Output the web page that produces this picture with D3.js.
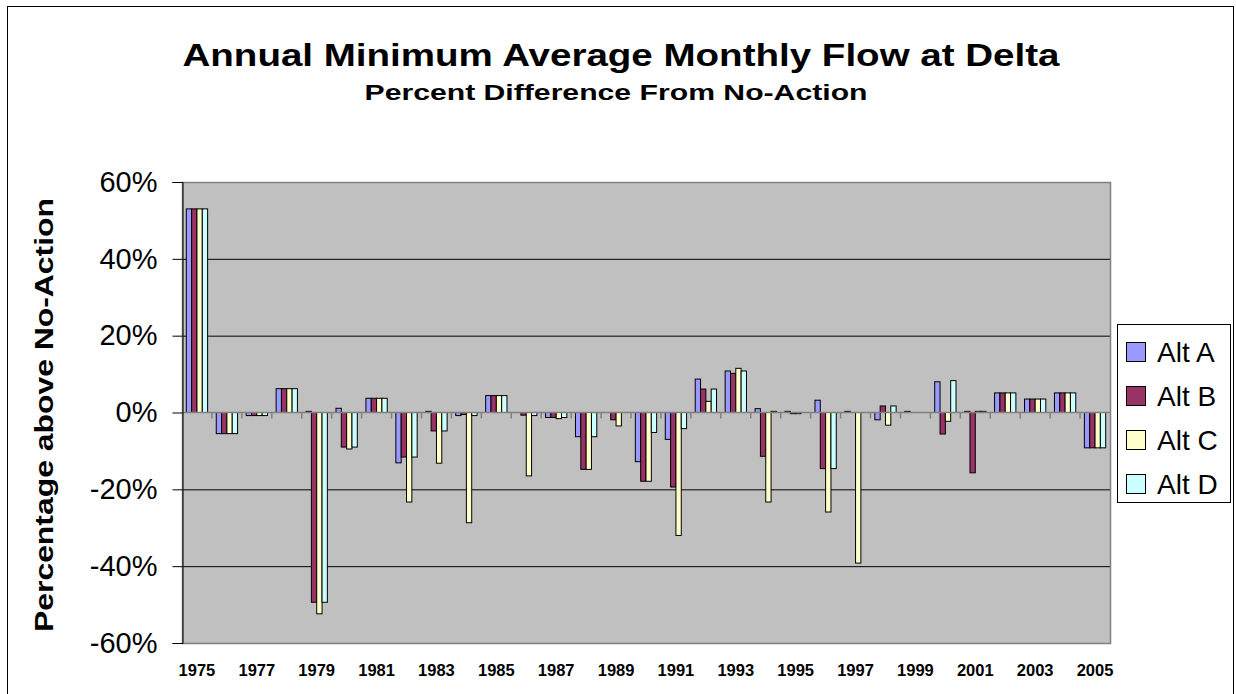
<!DOCTYPE html>
<html>
<head>
<meta charset="utf-8">
<script src="https://cdn.jsdelivr.net/npm/d3@7/dist/d3.min.js"></script>
<style>
  body { margin: 0; background: #fff; }
  text { font-family: Arial, "Liberation Sans", sans-serif; }
</style>
</head>
<body>
<div id="chart"></div>
<script>
var years = d3.range(1975, 2006)
var series = ['Alt A', 'Alt B', 'Alt C', 'Alt D']
var colors = ['#9999ff', '#993366', '#ffffcc', '#ccffff']

var altA = [53, -5.5, -0.8, 6.2, 0.3, 1.1, 3.7, -13.1, 0.3, -0.8, 4.4, 0, -1.3, -6.3, 0, -12.8, -7.0, 8.7, 10.8, 1.0, 0.3, 3.2, 0.3, -1.9, 0.3, 8.0, 0.3, 5.1, 3.5, 5.1, -9.2]
var altB = [53, -5.5, -0.8, 6.2, -49.4, -9.0, 3.7, -11.6, -4.8, -0.5, 4.4, -0.7, -1.3, -14.8, -1.9, -17.9, -19.4, 6.1, 10.2, -11.4, -0.3, -14.6, 0, 1.7, 0, -5.6, -15.7, 5.1, 3.5, 5.1, -9.2]
var altC = [53, -5.5, -0.8, 6.2, -52.4, -9.5, 3.7, -23.3, -13.2, -28.7, 4.4, -16.5, -1.6, -14.8, -3.5, -17.9, -32.0, 2.9, 11.5, -23.3, -0.3, -25.9, -39.2, -3.3, 0, -2.3, 0.3, 5.1, 3.5, 5.1, -9.2]
var altD = [53, -5.5, -0.8, 6.2, -49.4, -9.0, 3.7, -11.6, -4.8, -0.8, 4.4, -0.8, -1.3, -6.3, 0, -5.2, -4.2, 6.1, 10.8, 0.3, 0, -14.6, 0, 1.7, 0, 8.3, 0.3, 5.1, 3.5, 5.1, -9.2]
var yTicks = [-60, -40, -20, 0, 20, 40, 60]
var yearLabels = d3.range(1975, 2006, 2)

var width = 1236, height = 694
var plot = {left: 182, top: 182, right: 1110, bottom: 643}
var allSeries = [altA, altB, altC, altD]

var svg = d3.select('#chart')
    .append('svg')
    .attr('width', width)
    .attr('height', height)

// outer chart frame
svg.append('rect')
    .attr('x', 7.5).attr('y', 6.5)
    .attr('width', 1226).attr('height', 700)
    .attr('fill', '#fff')
    .attr('stroke', '#000')
    .attr('stroke-width', 1)

var x = d3.scaleBand()
    .domain(years)
    .range([plot.left, plot.right])
    .paddingInner(0.4 / 1.4)
    .paddingOuter(0.2)

var xCat = d3.scaleBand()
    .domain(years)
    .range([plot.left, plot.right])

var xSub = d3.scaleBand()
    .domain(series)
    .range([0, x.bandwidth()])

var y = d3.scaleLinear()
    .domain([-60, 60])
    .range([plot.bottom, plot.top])

// plot area
svg.append('rect')
    .attr('x', plot.left).attr('y', plot.top)
    .attr('width', plot.right - plot.left)
    .attr('height', plot.bottom - plot.top)
    .attr('fill', '#c0c0c0')

// gridlines
svg.append('g')
    .selectAll('line')
    .data(yTicks.filter(function(d) { return d != 0 && d != 60 && d != -60 }))
    .enter()
    .append('line')
    .attr('x1', plot.left).attr('x2', plot.right)
    .attr('y1', function(d) { return y(d) + 0.5 })
    .attr('y2', function(d) { return y(d) + 0.5 })
    .attr('stroke', '#000')
    .attr('stroke-width', 1)

// plot border
svg.append('rect')
    .attr('x', plot.left + 0.5).attr('y', plot.top + 0.5)
    .attr('width', plot.right - plot.left)
    .attr('height', plot.bottom - plot.top)
    .attr('fill', 'none')
    .attr('stroke', '#808080')
    .attr('stroke-width', 1.5)

// bars
var rows = years.map(function(yr, i) {
    return {year: yr, values: series.map(function(s, j) { return {key: s, idx: j, value: allSeries[j][i]} })}
})

svg.append('g')
    .selectAll('g')
    .data(rows)
    .enter()
    .append('g')
    .attr('transform', function(d) {
        var x0 = xCat(d.year) + (xCat.bandwidth() - x.bandwidth()) / 2
        return 'translate(' + x0 + ',0)'
    })
    .selectAll('rect')
    .data(function(d) { return d.values })
    .enter()
    .append('rect')
    .attr('x', function(d) { return xSub(d.key) })
    .attr('width', xSub.bandwidth())
    .attr('y', function(d) { return Math.min(y(d.value), y(0)) })
    .attr('height', function(d) { return Math.abs(y(d.value) - y(0)) })
    .attr('fill', function(d) { return colors[d.idx] })
    .attr('stroke', '#000')
    .attr('stroke-width', 1)

// zero axis with category ticks
svg.append('line')
    .attr('x1', plot.left).attr('x2', plot.right)
    .attr('y1', y(0)).attr('y2', y(0))
    .attr('stroke', '#808080')
    .attr('stroke-width', 1.5)

svg.append('g')
    .selectAll('line')
    .data(years.slice(1))
    .enter()
    .append('line')
    .attr('x1', function(d) { return xCat(d) })
    .attr('x2', function(d) { return xCat(d) })
    .attr('y1', y(0)).attr('y2', y(0) + 6)
    .attr('stroke', '#808080')
    .attr('stroke-width', 1.5)

// y axis
var yAxis = d3.axisLeft(y)
    .tickValues(yTicks)
    .tickSize(10)
    .tickPadding(15)
    .tickFormat(function(d) { return d + '%' })

var ya = svg.append('g')
    .attr('transform', 'translate(' + (plot.left + 0.5) + ',0)')
    .call(yAxis)
ya.select('.domain').attr('stroke', '#000').attr('stroke-width', 1)
ya.selectAll('.tick line').attr('stroke', '#000')
ya.selectAll('.tick text')
    .attr('font-size', 29)
    .attr('fill', '#000')
    .style('font-family', 'Arial, "Liberation Sans", sans-serif')

// x labels
svg.append('g')
    .selectAll('text')
    .data(yearLabels)
    .enter()
    .append('text')
    .attr('x', function(d) { return xCat(d) + xCat.bandwidth() / 2 })
    .attr('y', 676)
    .attr('text-anchor', 'middle')
    .attr('font-size', 16.5)
    .attr('font-weight', 'bold')
    .text(function(d) { return d })

// titles
svg.append('text')
    .attr('x', 621).attr('y', 66)
    .attr('text-anchor', 'middle')
    .attr('font-size', 31)
    .attr('font-weight', 'bold')
    .attr('textLength', 877)
    .attr('lengthAdjust', 'spacingAndGlyphs')
    .text('Annual Minimum Average Monthly Flow at Delta')

svg.append('text')
    .attr('x', 616).attr('y', 100)
    .attr('text-anchor', 'middle')
    .attr('font-size', 22)
    .attr('font-weight', 'bold')
    .attr('textLength', 503)
    .attr('lengthAdjust', 'spacingAndGlyphs')
    .text('Percent Difference From No-Action')

svg.append('text')
    .attr('transform', 'translate(53,415) rotate(-90)')
    .attr('text-anchor', 'middle')
    .attr('font-size', 25)
    .attr('font-weight', 'bold')
    .attr('textLength', 434)
    .attr('lengthAdjust', 'spacingAndGlyphs')
    .text('Percentage above No-Action')

// legend
var legend = svg.append('g')
legend.append('rect')
    .attr('x', 1117.5).attr('y', 324.5)
    .attr('width', 113).attr('height', 178)
    .attr('fill', '#fff')
    .attr('stroke', '#000')
    .attr('stroke-width', 1)

var items = legend.selectAll('g.item')
    .data(series)
    .enter()
    .append('g')
    .attr('class', 'item')
    .attr('transform', function(d, i) { return 'translate(1126,' + (352 + i * 44) + ')' })

items.append('rect')
    .attr('x', 0.5).attr('y', -9.5)
    .attr('width', 19).attr('height', 19)
    .attr('fill', function(d, i) { return colors[i] })
    .attr('stroke', '#000')
    .attr('stroke-width', 1)

items.append('text')
    .attr('x', 31).attr('y', 10)
    .attr('font-size', 28)
    .text(function(d) { return d })
</script>
</body>
</html>
